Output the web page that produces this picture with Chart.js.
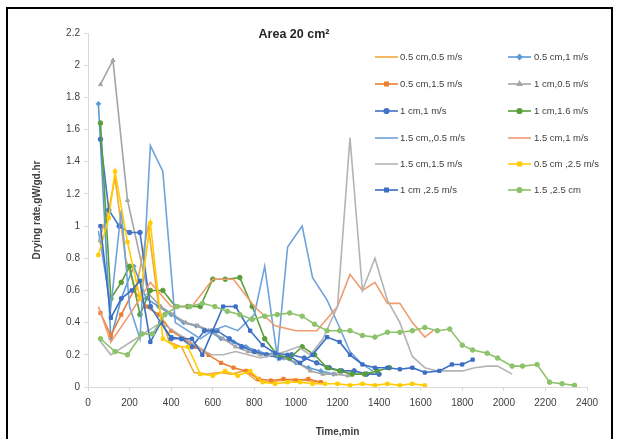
<!DOCTYPE html>
<html lang="en">
<head>
<meta charset="UTF-8">
<title>Drying rate - Area 20 cm2</title>
<script src="https://cdn.jsdelivr.net/npm/chart.js"></script>
<style>
  html, body { margin: 0; padding: 0; background: #fff; overflow: hidden; }
  #wrap { position: relative; width: 619px; height: 439px; }
  #frame { position: absolute; left: 6px; top: 7px; width: 603px; height: 440px; border: 2px solid #000; pointer-events: none; }
  canvas { position: absolute; left: 0; top: 0; }
</style>
</head>
<body>
<div id="wrap">
  <canvas id="chart" width="619" height="439"></canvas>
  <div id="frame"></div>
</div>
<script>
// series names (legend order)
const seriesNames = [
  '0.5 cm,0.5 m/s', '0.5 cm,1 m/s',
  '0.5 cm,1.5 m/s', '1 cm,0.5 m/s',
  '1 cm,1 m/s', '1 cm,1.6 m/s',
  '1.5 cm,,0.5 m/s', '1.5 cm,1 m/s',
  '1.5 cm,1.5 m/s', '0.5 cm ,2.5 m/s',
  '1 cm ,2.5 m/s', '1.5 ,2.5 cm'
];

// time (min) and drying rate (gW/gd.hr)
const t1 = [50, 100, 130, 180, 230, 290, 340, 390, 450, 510, 570, 630, 690, 750, 810, 870, 930, 990, 1050, 1110];
const r1 = [0.9, 1.1, 1.3, 0.8, 0.6, 1.0, 0.5, 0.28, 0.25, 0.09, 0.08, 0.09, 0.08, 0.1, 0.04, 0.03, 0.04, 0.05, 0.04, 0.03];

const t2 = [50, 110, 160, 220, 280, 340, 400, 460, 520, 580, 640, 700, 760, 820, 880, 940, 1000, 1060, 1120, 1180];
const r2 = [1.76, 0.3, 0.55, 0.75, 0.55, 0.5, 0.45, 0.4, 0.38, 0.35, 0.3, 0.28, 0.25, 0.22, 0.2, 0.18, 0.15, 0.12, 0.1, 0.08];

const t3 = [60, 110, 160, 220, 280, 340, 400, 460, 520, 580, 640, 700, 760, 820, 880, 940, 1000, 1060, 1120];
const r3 = [0.46, 0.32, 0.45, 0.6, 0.5, 0.45, 0.35, 0.3, 0.25, 0.2, 0.15, 0.12, 0.1, 0.05, 0.04, 0.05, 0.04, 0.05, 0.03];

const t4 = [60, 120, 190, 290, 350, 410, 470, 530, 590, 650, 710, 770, 830, 890, 950, 1010, 1070, 1130, 1190, 1250];
const r4 = [1.88, 2.03, 1.16, 0.58, 0.5, 0.45, 0.4, 0.38, 0.35, 0.3, 0.25, 0.22, 0.2, 0.2, 0.18, 0.15, 0.1, 0.08, 0.08, 0.07];

const t5 = [60, 100, 150, 200, 250, 300, 350, 400, 450, 500, 560, 620, 680, 740, 800, 860, 920, 980, 1040, 1100, 1160, 1220, 1280, 1340, 1400];
const r5 = [1.54, 1.1, 1.0, 0.96, 0.96, 0.5, 0.4, 0.3, 0.3, 0.25, 0.35, 0.35, 0.3, 0.25, 0.22, 0.2, 0.18, 0.2, 0.18, 0.15, 0.12, 0.1, 0.1, 0.08, 0.08];

const t6 = [60, 110, 160, 200, 250, 300, 360, 420, 480, 540, 600, 660, 730, 790, 850, 910, 970, 1030, 1090, 1150, 1210, 1270, 1330, 1390, 1450];
const r6 = [1.64, 0.55, 0.65, 0.75, 0.45, 0.6, 0.6, 0.5, 0.5, 0.5, 0.67, 0.67, 0.68, 0.5, 0.3, 0.2, 0.18, 0.25, 0.2, 0.12, 0.1, 0.08, 0.08, 0.1, 0.12];

const t7 = [50, 110, 160, 200, 250, 300, 360, 420, 480, 540, 600, 660, 720, 800, 850, 910, 960, 1030, 1080, 1150, 1210, 1260, 1320, 1370];
const r7 = [0.97, 0.5, 1.1, 0.5, 0.3, 1.5, 1.34, 0.4, 0.35, 0.3, 0.35, 0.38, 0.35, 0.45, 0.75, 0.19, 0.87, 1.0, 0.68, 0.54, 0.37, 0.22, 0.14, 0.1];

const t8 = [50, 110, 200, 300, 400, 500, 600, 700, 800, 900, 1000, 1100, 1200, 1260, 1320, 1380, 1440, 1500, 1560, 1620, 1660];
const r8 = [0.5, 0.28, 0.45, 0.65, 0.5, 0.5, 0.67, 0.67, 0.5, 0.38, 0.35, 0.35, 0.5, 0.7, 0.6, 0.65, 0.52, 0.52, 0.4, 0.31, 0.35];

const t9 = [50, 110, 170, 230, 290, 350, 410, 470, 530, 590, 650, 710, 770, 830, 890, 950, 1010, 1070, 1130, 1200, 1260, 1320, 1380, 1440, 1500, 1560, 1620, 1680, 1740, 1800, 1860, 1920, 1970, 2040];
const r9 = [0.3, 0.2, 0.25, 0.3, 0.35, 0.4, 0.35, 0.3, 0.25, 0.2, 0.2, 0.22, 0.2, 0.18, 0.2, 0.22, 0.25, 0.2, 0.3, 0.5, 1.55, 0.6, 0.8, 0.54, 0.4, 0.19, 0.12, 0.1, 0.1, 0.1, 0.12, 0.13, 0.13, 0.08];

const t10 = [50, 100, 130, 190, 250, 300, 360, 420, 480, 540, 600, 660, 720, 780, 840, 900, 960, 1020, 1080, 1140, 1200, 1260, 1320, 1380, 1440, 1500, 1560, 1620];
const r10 = [0.82, 1.05, 1.34, 0.9, 0.55, 1.02, 0.3, 0.25, 0.25, 0.08, 0.07, 0.1, 0.07, 0.1, 0.03, 0.02, 0.03, 0.03, 0.02, 0.02, 0.02, 0.01, 0.02, 0.01, 0.02, 0.01, 0.02, 0.01];

const t11 = [60, 110, 160, 210, 250, 300, 350, 400, 450, 500, 550, 600, 650, 710, 780, 840, 900, 960, 1020, 1080, 1150, 1210, 1260, 1320, 1380, 1440, 1500, 1560, 1620, 1690, 1750, 1800, 1850];
const r11 = [1.0, 0.43, 0.55, 0.6, 0.66, 0.28, 0.4, 0.31, 0.3, 0.3, 0.2, 0.35, 0.5, 0.5, 0.35, 0.26, 0.21, 0.2, 0.15, 0.2, 0.31, 0.28, 0.2, 0.14, 0.12, 0.12, 0.11, 0.12, 0.09, 0.1, 0.14, 0.14, 0.17];

const t12 = [60, 130, 190, 260, 310, 370, 430, 490, 550, 610, 670, 730, 790, 850, 910, 970, 1030, 1090, 1150, 1210, 1260, 1320, 1380, 1440, 1500, 1560, 1620, 1680, 1740, 1800, 1850, 1920, 1970, 2040, 2090, 2160, 2220, 2280, 2340];
const r12 = [0.3, 0.22, 0.2, 0.33, 0.33, 0.45, 0.5, 0.5, 0.52, 0.5, 0.47, 0.45, 0.42, 0.44, 0.45, 0.46, 0.44, 0.39, 0.35, 0.35, 0.35, 0.32, 0.31, 0.34, 0.34, 0.35, 0.37, 0.35, 0.36, 0.26, 0.23, 0.21, 0.18, 0.13, 0.13, 0.14, 0.03, 0.02, 0.01];

const xTicks = [0, 200, 400, 600, 800, 1000, 1200, 1400, 1600, 1800, 2000, 2200, 2400];
const yTicks = [0, 0.2, 0.4, 0.6, 0.8, 1, 1.2, 1.4, 1.6, 1.8, 2, 2.2];

const times = [t1, t2, t3, t4, t5, t6, t7, t8, t9, t10, t11, t12];
const rates = [r1, r2, r3, r4, r5, r6, r7, r8, r9, r10, r11, r12];

// styling
const colors = ['#F2A93B', '#5B9BD5', '#ED7D31', '#A5A5A5', '#4472C4', '#5A9E3A',
                '#6FA3DA', '#F19C6E', '#B4B4B4', '#FFCC00', '#3A6FC4', '#8CC26B'];
const markers = [false, 'rectRot', 'rect', 'triangle', 'circle', 'circle',
                 false, false, false, 'rect', 'rect', 'circle'];

const datasets = seriesNames.map((name, i) => ({
  label: name,
  data: times[i].map((t, k) => ({ x: t, y: rates[i][k] })),
  borderColor: colors[i],
  backgroundColor: colors[i],
  borderWidth: 1.6,
  pointStyle: markers[i] || 'circle',
  pointRadius: markers[i] ? 2.3 : 0,
  pointBorderWidth: 1,
  tension: 0,
  order: 12 - i
}));

const fontFamily = '"Liberation Sans", Arial, sans-serif';

// legend inside the plot area, two columns
const legendPlugin = {
  id: 'boxLegend',
  afterDraw(chart) {
    const ctx = chart.ctx;
    const rows = [57, 84, 111, 138, 164, 190];
    const cols = [{ sx: 375, tx: 400 }, { sx: 508, tx: 534 }];
    ctx.save();
    ctx.font = '9.5px ' + fontFamily;
    ctx.textBaseline = 'middle';
    ctx.fillStyle = '#404040';
    chart.data.datasets.forEach((ds, i) => {
      const c = cols[i % 2], y = rows[Math.floor(i / 2)];
      ctx.strokeStyle = ds.borderColor;
      ctx.lineWidth = 1.6;
      ctx.beginPath();
      ctx.moveTo(c.sx, y);
      ctx.lineTo(c.sx + 23, y);
      ctx.stroke();
      if (ds.pointRadius > 0) {
        Chart.helpers.drawPoint(ctx, {
          pointStyle: ds.pointStyle, radius: 2.3, borderWidth: 1
        }, c.sx + 11.5, y);
        ctx.fillStyle = ds.backgroundColor;
        ctx.fill();
      }
      ctx.fillStyle = '#404040';
      ctx.fillText(ds.label, c.tx, y);
    });
    // chart title
    ctx.font = 'bold 12.5px ' + fontFamily;
    ctx.textAlign = 'center';
    ctx.fillStyle = '#262626';
    ctx.fillText('Area 20 cm\u00B2', 294, 35);
    ctx.restore();
  }
};

new Chart(document.getElementById('chart'), {
  type: 'line',
  data: { datasets },
  plugins: [legendPlugin],
  options: {
    responsive: false,
    animation: false,
    events: [],
    layout: { padding: { left: 0, top: 33, right: 32, bottom: 0 } },
    plugins: { legend: { display: false }, title: { display: false }, tooltip: { enabled: false } },
    scales: {
      x: {
        type: 'linear',
        min: 0, max: 2400,
        afterBuildTicks: (s) => { s.ticks = xTicks.map(v => ({ value: v })); },
        afterFit: (s) => { s.height = 52; },
        grid: { display: true, drawOnChartArea: false, tickLength: 4, color: '#D9D9D9' },
        border: { color: '#D9D9D9', width: 1 },
        ticks: { color: '#404040', font: { family: fontFamily, size: 10 }, padding: 6, maxRotation: 0, callback: (v) => String(v) },
        title: { display: true, text: 'Time,min', color: '#404040', font: { family: fontFamily, size: 10, weight: 'bold' }, padding: { top: 0, bottom: 1 } }
      },
      y: {
        min: 0, max: 2.2,
        afterBuildTicks: (s) => { s.ticks = yTicks.map(v => ({ value: v })); },
        afterFit: (s) => { s.width = 88; },
        grid: { display: true, drawOnChartArea: false, tickLength: 4, color: '#D9D9D9' },
        border: { color: '#D9D9D9', width: 1 },
        ticks: { color: '#404040', font: { family: fontFamily, size: 10 }, padding: 4, callback: (v) => String(v) },
        title: { display: true, text: 'Drying rate,gW/gd.hr', color: '#404040', font: { family: fontFamily, size: 10, weight: 'bold' }, padding: { top: 31, bottom: 0 } }
      }
    }
  }
});
</script>
</body>
</html>
